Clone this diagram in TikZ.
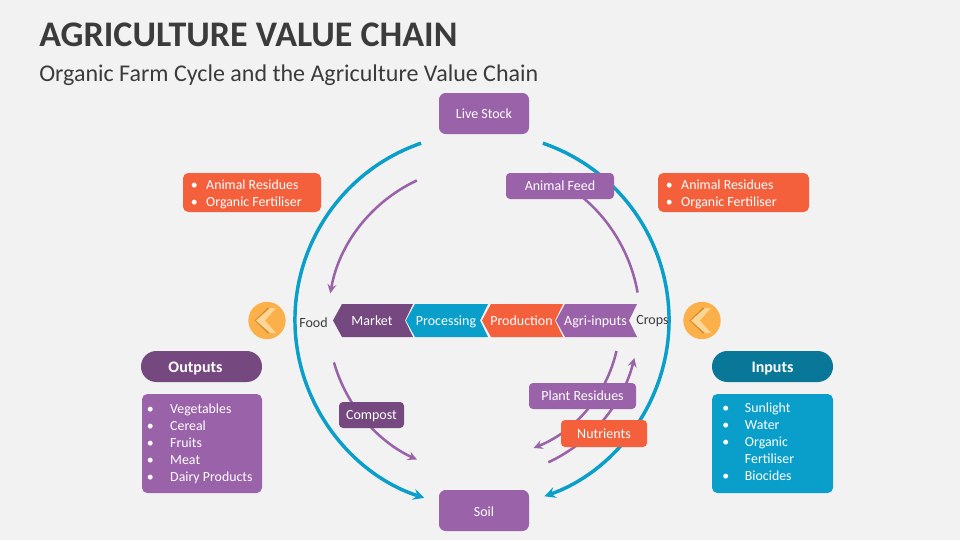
\documentclass[tikz,border=0pt]{standalone}
\usepackage{fontspec}
\setmainfont{Carlito}
\usetikzlibrary{arrows, calc}
\definecolor{pagegrey}{HTML}{F2F2F2}
\definecolor{inkgrey}{HTML}{3B3B3B}
\definecolor{plum}{HTML}{9A62A8}
\definecolor{darkplum}{HTML}{75487F}
\definecolor{sky}{HTML}{0A9FCB}
\definecolor{darksky}{HTML}{087798}
\definecolor{coral}{HTML}{F5603C}
\definecolor{amber}{HTML}{FBB04A}
\definecolor{paleamber}{HTML}{FDD594}
\definecolor{shadeamber}{HTML}{B9772A}

\tikzset{
  tagbox/.style={rounded corners=3pt, inner sep=0pt, text=white, text height=9pt, text depth=2pt, font=\fontsize{10.5}{12.75}\selectfont},
  bigbox/.style={tagbox, rounded corners=5pt},
  listbox/.style={rounded corners=4pt, inner sep=0pt},
  listtext/.style={anchor=west, inner sep=0pt, text=white, align=left, font=\fontsize{10.4}{12.7}\selectfont},
  pillbox/.style={rounded corners=11.5pt, inner sep=0pt, text=white, text height=11pt, text depth=2.5pt, font=\fontsize{12}{14}\selectfont\bfseries},
  plainlabel/.style={inner sep=0pt, text=inkgrey, font=\fontsize{10.5}{12}\selectfont},
  outerarc/.style={->, >=stealth, sky, line width=2.6pt},
  innerarc/.style={->, >=stealth, plum, line width=1.9pt},
}

\begin{document}
\begin{tikzpicture}[x=0.75pt, y=-0.75pt]
  \fill[pagegrey] (0,0) rectangle (960,540);
  \useasboundingbox (0,0) rectangle (960,540);

  \node[anchor=base west, inner sep=0pt, text=inkgrey, font=\fontsize{27}{30}\selectfont\bfseries] (title) at (39,46) {AGRICULTURE VALUE CHAIN};
  \node[anchor=base west, inner sep=0pt, text=inkgrey, font=\fontsize{18}{22}\selectfont] (subtitle) at (39,81) {Organic Farm Cycle and the Agriculture Value Chain};

  \coordinate (hub) at (482,320);

  \draw[outerarc] ($(hub)+(251:187)$) coordinate (stockleft) arc[start angle=251, end angle=108, radius=187];
  \draw[outerarc] ($(hub)+(-71:187)$) coordinate (stockright) arc[start angle=-71, end angle=70.5, radius=187];

  \draw[innerarc] ($(hub)+(245:154)$) coordinate (feedleft) arc[start angle=245, end angle=190, radius=154];
  \draw[innerarc] ($(hub)+(-10:158)$) coordinate (cropsup) arc[start angle=-10, end angle=-68, radius=158];
  \draw[innerarc] ($(hub)+(164:154)$) coordinate (foodown) arc[start angle=164, end angle=115, radius=154];
  \draw[innerarc] ($(hub)+(13:138)$) coordinate (residuestart) arc[start angle=13, end angle=68, radius=138];
  \draw[innerarc] ($(hub)+(65:157)$) coordinate (nutrientstart) arc[start angle=65, end angle=14, radius=157];

  \node[bigbox, fill=plum, minimum width=67.5pt, minimum height=30.75pt] (livestock) at (484,113.5) {Live Stock};
  \node[bigbox, fill=plum, minimum width=67.5pt, minimum height=30.75pt, text height=11pt] (soil) at (484,510.5) {Soil};
  \node[tagbox, fill=plum, minimum width=81pt, minimum height=19.5pt] (animalfeed) at (560,186) {Animal Feed};
  \node[tagbox, fill=plum, minimum width=80.25pt, minimum height=19.5pt] (plantresidues) at (582.5,396) {Plant Residues};
  \node[tagbox, fill=coral, minimum width=64.5pt, minimum height=20.25pt] (nutrients) at (604,433.5) {Nutrients};
  \node[tagbox, fill=darkplum, minimum width=48.75pt, minimum height=19.5pt] (compost) at (371.5,415) {Compost};

  \node[listbox, fill=coral, minimum width=103.5pt, minimum height=29.25pt] (outresidues) at (252,192.5) {};
  \node[listtext] (outresiduestext) at (190.5,194.5)
    {\makebox[11.6pt][l]{\textbullet}Animal Residues\\\makebox[11.6pt][l]{\textbullet}Organic Fertiliser};
  \node[listbox, fill=coral, minimum width=113.25pt, minimum height=29.25pt] (inresidues) at (733.5,192.5) {};
  \node[listtext] (inresiduestext) at (665.5,194.5)
    {\makebox[11.6pt][l]{\textbullet}Animal Residues\\\makebox[11.6pt][l]{\textbullet}Organic Fertiliser};

  \foreach \name/\xa/\xb/\hue/\word in {market/333/413/darkplum/Market, processing/406/488/sky/Processing, production/482/563/coral/Production, agriinputs/556/637/plum/Agri-inputs} {
    \fill[\hue] (\xa,320.5) -- (\xa+9,304) -- (\xb,304) -- (\xb-8,320.5) -- (\xb,337) -- (\xa+9,337) -- cycle;
    \node[inner sep=0pt, text=white, text height=8pt, text depth=2pt, font=\fontsize{10.5}{12}\selectfont] (\name) at ({(\xa+\xb)/2-1},321) {\word};
  }

  \node[plainlabel] (food) at (313.5,323) {Food};
  \node[plainlabel] (crops) at (652.5,321.5) {Crops};

  \foreach \name/\xc in {foodicon/267, cropsicon/702} {
    \node[circle, fill=amber, inner sep=0pt, minimum size=28pt] (\name) at (\xc,320.5) {};
    \fill[shadeamber, opacity=0.6] (\xc-12.5,320.5) -- (\xc+1,307.5) -- (\xc+4,309) -- (\xc-5,320.5) -- (\xc+4,332) -- (\xc+1,333.5) -- cycle;
    \fill[paleamber] (\xc-11,320.5) -- (\xc+3,308) -- (\xc+9,308) -- (\xc-2,320.5) -- (\xc+9,333) -- (\xc+3,333) -- cycle;
  }

  \node[pillbox, fill=darkplum, minimum width=90.75pt, minimum height=23.25pt] (outputs) at (201.5,366.5) {\hspace*{-9pt}Outputs};
  \node[pillbox, fill=darksky, minimum width=90.75pt, minimum height=23.25pt] (inputs) at (772.5,366.5) {Inputs};

  \node[listbox, fill=plum, minimum width=90pt, minimum height=74.25pt] (outputlist) at (202,443.5) {};
  \node[listtext] (outputlisttext) at (146.5,444)
    {\makebox[17.6pt][l]{\textbullet}Vegetables\\\makebox[17.6pt][l]{\textbullet}Cereal\\\makebox[17.6pt][l]{\textbullet}Fruits\\\makebox[17.6pt][l]{\textbullet}Meat\\\makebox[17.6pt][l]{\textbullet}Dairy Products};
  \node[listbox, fill=sky, minimum width=90.75pt, minimum height=74.25pt] (inputlist) at (772.5,443.5) {};
  \node[listtext] (inputlisttext) at (722,442)
    {\makebox[17pt][l]{\textbullet}Sunlight\\\makebox[17pt][l]{\textbullet}Water\\\makebox[17pt][l]{\textbullet}Organic\\\makebox[17pt][l]{}Fertiliser\\\makebox[17pt][l]{\textbullet}Biocides};
\end{tikzpicture}
\end{document}
